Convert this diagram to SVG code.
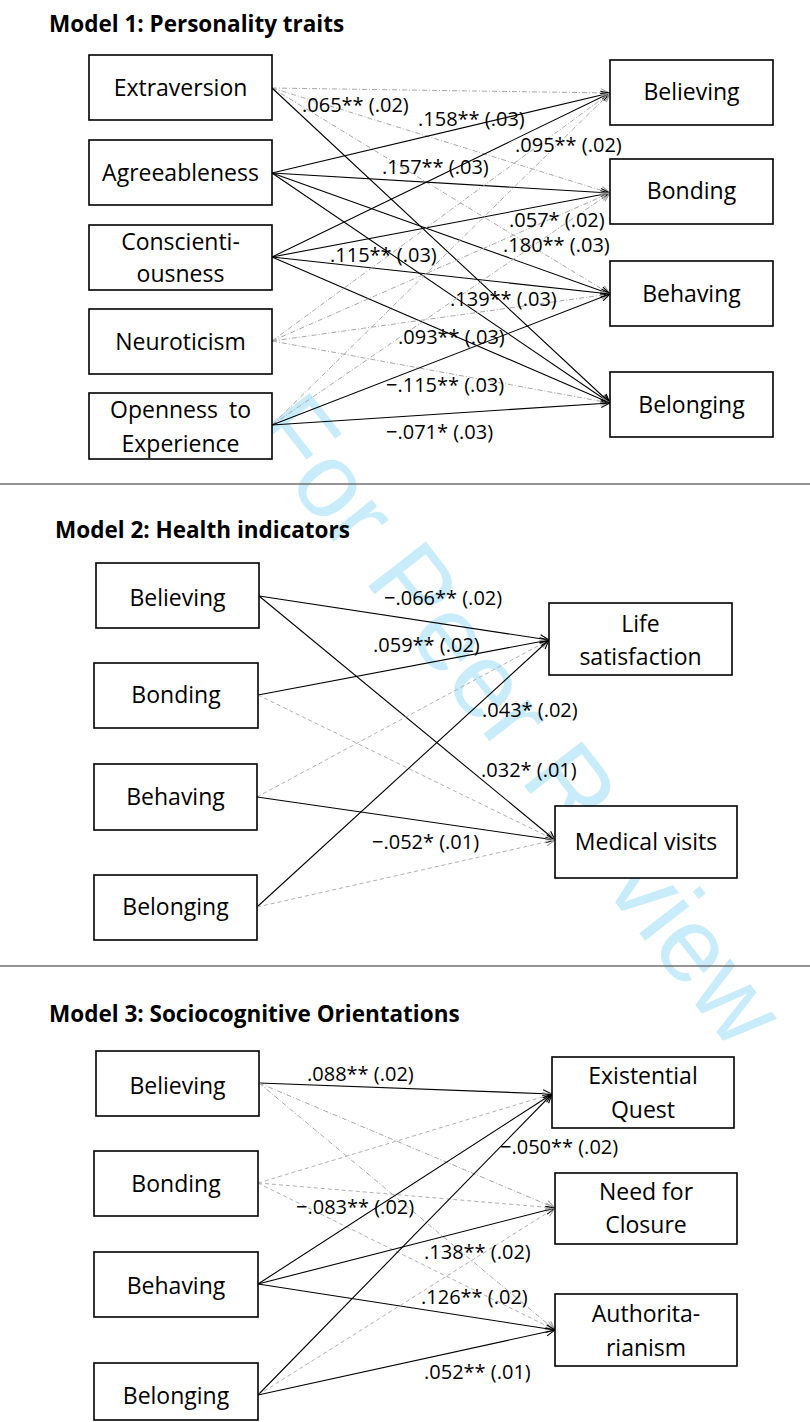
<svg xmlns="http://www.w3.org/2000/svg" width="810" height="1422" viewBox="0 0 810 1422">
<defs>
<style>
.bg{fill:#ffffff}
.wm{font-family:"Liberation Sans",Arial,sans-serif;font-size:106px;fill:#c9ecfb}
.box{fill:#ffffff;stroke:#000;stroke-width:1.6}
.t{font-family:"Open Sans","Liberation Sans",sans-serif;font-size:23px;fill:#000;text-anchor:middle}
.lbl{font-family:"Open Sans","Liberation Sans",sans-serif;font-size:20px;fill:#000}
.title{font-family:"Open Sans","Liberation Sans",sans-serif;font-size:22.5px;font-weight:bold;fill:#000}
.s{stroke:#000;stroke-width:1.1;fill:none;marker-end:url(#ah)}
.d{stroke:#a8a8a8;stroke-width:1;fill:none;stroke-dasharray:5 2 1 2;marker-end:url(#ahg)}
.dd{stroke:#b0b0b0;stroke-width:1;fill:none;stroke-dasharray:4 3;marker-end:url(#ahg)}
.sep{stroke:#707070;stroke-width:1.3}
</style>
<marker id="ah" viewBox="0 0 10 10" refX="10" refY="5" markerWidth="10" markerHeight="10" markerUnits="userSpaceOnUse" orient="auto">
<path d="M1,1 L10,5 L1,9" fill="none" stroke="#000" stroke-width="1.1"/>
</marker>
<marker id="ahg" viewBox="0 0 10 10" refX="10" refY="5" markerWidth="10" markerHeight="10" markerUnits="userSpaceOnUse" orient="auto">
<path d="M1,1 L10,5 L1,9" fill="none" stroke="#999" stroke-width="1"/>
</marker>
</defs>
<rect class="bg" x="0" y="0" width="810" height="1422"/>
<text class="wm" transform="translate(490,742) rotate(52)" text-anchor="middle">For Peer Review</text>

<g id="separators">
<line class="sep" x1="0" y1="484" x2="810" y2="484"/>
<line class="sep" x1="0" y1="966" x2="810" y2="966"/>
</g>

<text class="title" x="49" y="32">Model 1: Personality traits</text>
<text class="title" x="55" y="538">Model 2: Health indicators</text>
<text class="title" x="49" y="1022">Model 3: Sociocognitive Orientations</text>

<g id="connectors">
<!-- Model 1 -->
<path class="d" d="M272,88 L610,93"/>
<path class="d" d="M272,88 L610,193"/>
<path class="d" d="M272,88 L610,294"/>
<path class="s" d="M272,88 L610,403"/>
<path class="s" d="M272,173 L610,93"/>
<path class="s" d="M272,173 L610,193"/>
<path class="s" d="M272,173 L610,294"/>
<path class="s" d="M272,173 L610,403"/>
<path class="s" d="M272,257 L610,93"/>
<path class="s" d="M272,257 L610,193"/>
<path class="s" d="M272,257 L610,294"/>
<path class="s" d="M272,257 L610,403"/>
<path class="d" d="M272,341 L610,93"/>
<path class="d" d="M272,341 L610,193"/>
<path class="d" d="M272,341 L610,294"/>
<path class="d" d="M272,341 L610,403"/>
<path class="d" d="M272,425 L610,93"/>
<path class="d" d="M272,425 L610,193"/>
<path class="s" d="M272,425 L610,294"/>
<path class="s" d="M272,425 L610,403"/>
<!-- Model 2 -->
<path class="s" d="M259,596 L549,640"/>
<path class="s" d="M259,596 L555,840"/>
<path class="s" d="M258,695 L549,640"/>
<path class="dd" d="M258,695 L555,840"/>
<path class="dd" d="M257,797 L549,640"/>
<path class="s" d="M257,797 L555,840"/>
<path class="s" d="M257,907 L549,640"/>
<path class="dd" d="M257,907 L555,840"/>
<!-- Model 3 -->
<path class="s" d="M259,1083 L552,1094"/>
<path class="d" d="M259,1083 L555,1208"/>
<path class="d" d="M259,1083 L555,1330"/>
<path class="dd" d="M258,1183 L552,1094"/>
<path class="dd" d="M258,1183 L555,1208"/>
<path class="dd" d="M258,1183 L555,1330"/>
<path class="s" d="M258,1284 L552,1094"/>
<path class="s" d="M258,1284 L555,1208"/>
<path class="s" d="M258,1284 L555,1330"/>
<path class="s" d="M258,1395 L552,1094"/>
<path class="dd" d="M258,1395 L555,1208"/>
<path class="s" d="M258,1395 L555,1330"/>
</g>

<g id="labels">
<text class="lbl" x="302" y="112">.065** (.02)</text>
<text class="lbl" x="418" y="126">.158** (.03)</text>
<text class="lbl" x="382" y="174">.157** (.03)</text>
<text class="lbl" x="515" y="152">.095** (.02)</text>
<text class="lbl" x="509" y="227">.057* (.02)</text>
<text class="lbl" x="503" y="252">.180** (.03)</text>
<text class="lbl" x="330" y="262">.115** (.03)</text>
<text class="lbl" x="450" y="306">.139** (.03)</text>
<text class="lbl" x="398" y="344">.093** (.03)</text>
<text class="lbl" x="386" y="392">−.115** (.03)</text>
<text class="lbl" x="386" y="439">−.071* (.03)</text>
<text class="lbl" x="384" y="605">−.066** (.02)</text>
<text class="lbl" x="373" y="652">.059** (.02)</text>
<text class="lbl" x="482" y="717">.043* (.02)</text>
<text class="lbl" x="481" y="777">.032* (.01)</text>
<text class="lbl" x="372" y="849">−.052* (.01)</text>
<text class="lbl" x="307" y="1081">.088** (.02)</text>
<text class="lbl" x="500" y="1154">−.050** (.02)</text>
<text class="lbl" x="296" y="1214">−.083** (.02)</text>
<text class="lbl" x="424" y="1259">.138** (.02)</text>
<text class="lbl" x="421" y="1304">.126** (.02)</text>
<text class="lbl" x="424" y="1379">.052** (.01)</text>
</g>

<!-- Model 1 nodes -->
<g id="m1-extraversion"><rect class="box" x="89" y="55" width="183" height="65"/><text class="t" x="180.5" y="96">Extraversion</text></g>
<g id="m1-agreeableness"><rect class="box" x="89" y="140" width="183" height="65"/><text class="t" x="180.5" y="181">Agreeableness</text></g>
<g id="m1-conscientiousness"><rect class="box" x="89" y="225" width="183" height="65"/><text class="t" x="180.5" y="250">Conscienti-</text><text class="t" x="180.5" y="282">ousness</text></g>
<g id="m1-neuroticism"><rect class="box" x="89" y="309" width="183" height="65"/><text class="t" x="180.5" y="350">Neuroticism</text></g>
<g id="m1-openness"><rect class="box" x="89" y="393" width="183" height="66"/><text class="t" x="180.5" y="418" word-spacing="5">Openness to</text><text class="t" x="180.5" y="452">Experience</text></g>
<g id="m1-believing"><rect class="box" x="610" y="60" width="163" height="65"/><text class="t" x="691.5" y="100">Believing</text></g>
<g id="m1-bonding"><rect class="box" x="610" y="159" width="163" height="65"/><text class="t" x="691.5" y="199">Bonding</text></g>
<g id="m1-behaving"><rect class="box" x="610" y="261" width="163" height="65"/><text class="t" x="691.5" y="302">Behaving</text></g>
<g id="m1-belonging"><rect class="box" x="610" y="372" width="163" height="65"/><text class="t" x="691.5" y="413">Belonging</text></g>

<!-- Model 2 nodes -->
<g id="m2-believing"><rect class="box" x="96" y="563" width="163" height="65"/><text class="t" x="177.5" y="606">Believing</text></g>
<g id="m2-bonding"><rect class="box" x="94" y="663" width="164" height="65"/><text class="t" x="176" y="703">Bonding</text></g>
<g id="m2-behaving"><rect class="box" x="94" y="764" width="163" height="66"/><text class="t" x="175.5" y="805">Behaving</text></g>
<g id="m2-belonging"><rect class="box" x="94" y="875" width="163" height="65"/><text class="t" x="175.5" y="915">Belonging</text></g>
<g id="m2-life"><rect class="box" x="549" y="603" width="183" height="72"/><text class="t" x="640.5" y="632">Life</text><text class="t" x="640.5" y="665">satisfaction</text></g>
<g id="m2-medical"><rect class="box" x="555" y="806" width="182" height="72"/><text class="t" x="646" y="850">Medical visits</text></g>

<!-- Model 3 nodes -->
<g id="m3-believing"><rect class="box" x="96" y="1051" width="163" height="65"/><text class="t" x="177.5" y="1094">Believing</text></g>
<g id="m3-bonding"><rect class="box" x="94" y="1151" width="164" height="65"/><text class="t" x="176" y="1192">Bonding</text></g>
<g id="m3-behaving"><rect class="box" x="94" y="1252" width="164" height="65"/><text class="t" x="176" y="1294">Behaving</text></g>
<g id="m3-belonging"><rect class="box" x="94" y="1363" width="164" height="57"/><text class="t" x="176" y="1404">Belonging</text></g>
<g id="m3-existential"><rect class="box" x="552" y="1057" width="182" height="71"/><text class="t" x="643" y="1084">Existential</text><text class="t" x="643" y="1118">Quest</text></g>
<g id="m3-closure"><rect class="box" x="555" y="1173" width="182" height="71"/><text class="t" x="646" y="1200">Need for</text><text class="t" x="646" y="1233">Closure</text></g>
<g id="m3-authoritarianism"><rect class="box" x="555" y="1294" width="182" height="72"/><text class="t" x="646" y="1322">Authorita-</text><text class="t" x="646" y="1356">rianism</text></g>
</svg>
